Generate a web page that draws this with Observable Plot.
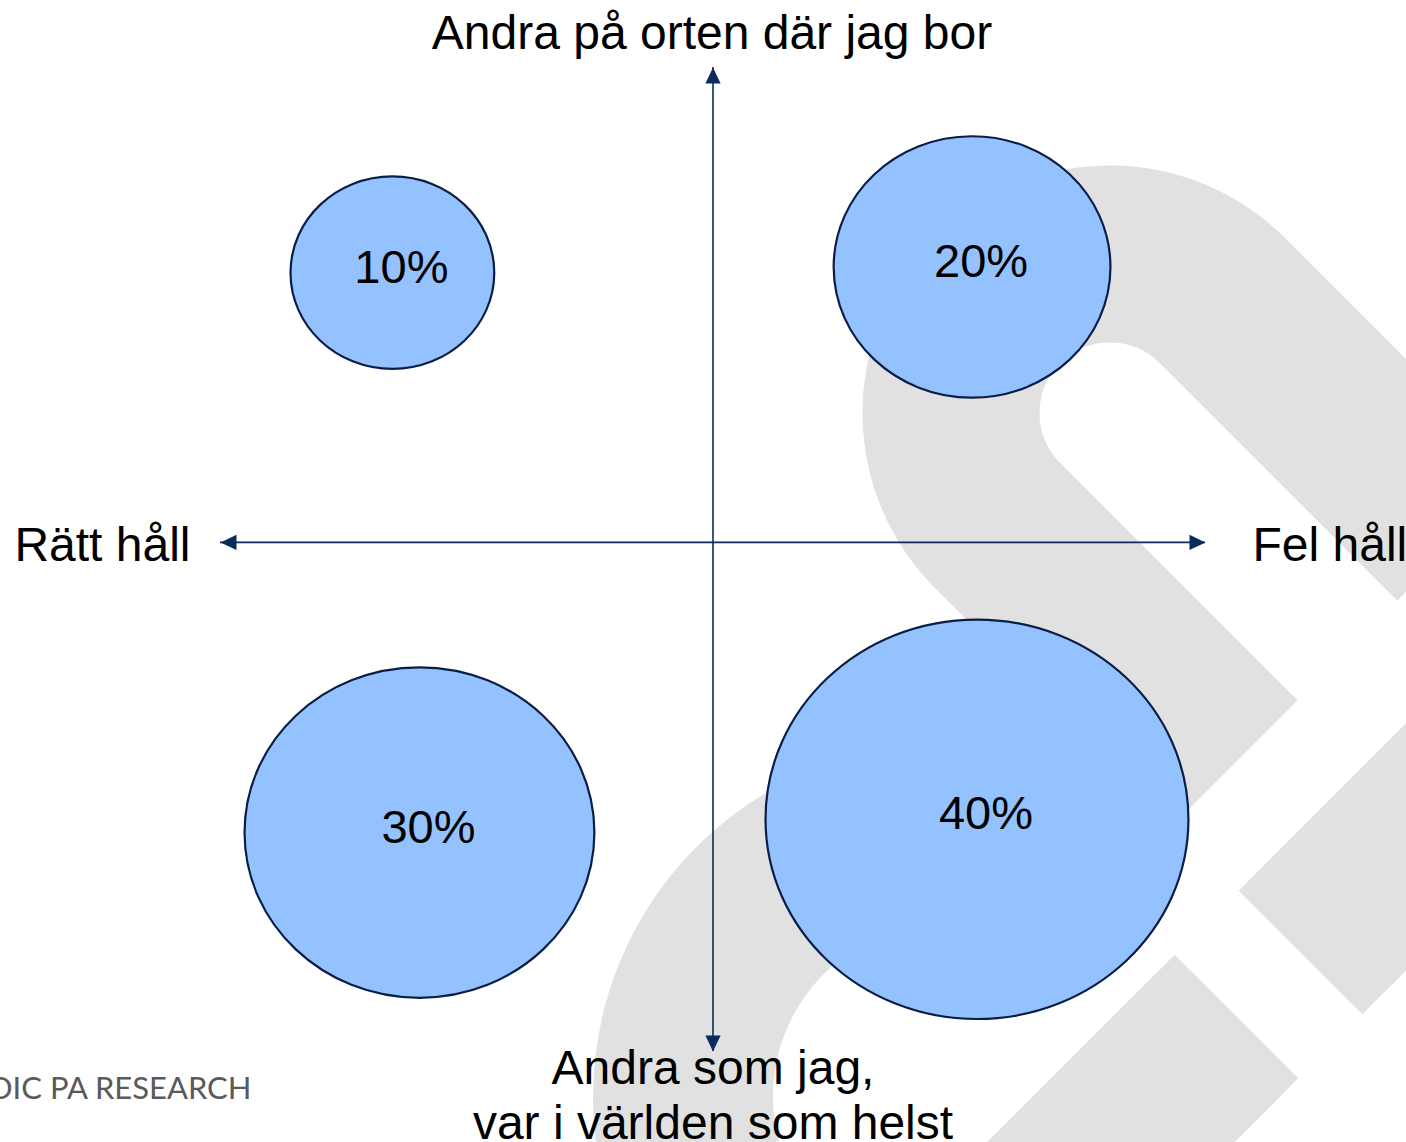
<!DOCTYPE html>
<html>
<head>
<meta charset="utf-8">
<script src="https://cdn.jsdelivr.net/npm/d3@7"></script>
<script src="https://cdn.jsdelivr.net/npm/@observablehq/plot@0.6"></script>
<style>
  html, body { margin: 0; padding: 0; background: #ffffff; overflow: hidden; }
  #chart svg { display: block; }
</style>
</head>
<body>
<div id="chart"></div>
<script>
// ---------- data ----------
const quadrants   = ["På orten, rätt håll", "På orten, fel håll", "Som jag, rätt håll", "Som jag, fel håll"];
const shares      = [10, 20, 30, 40];
const shareLabels = ["10%", "20%", "30%", "40%"];
// conceptual position: x  −1 = "Rätt håll" … +1 = "Fel håll"
//                      y  +1 = "Andra på orten" … −1 = "Andra som jag"
const posX = [-0.651, 0.526, -0.596, 0.536];
const posY = [0.568, 0.580, -0.611, -0.583];
const xExtent = [-1, 1];
const yExtent = [-1.072, 1];
const labelTop    = "Andra på orten där jag bor";
const labelBottom = "Andra som jag,\nvar i världen som helst";
const labelLeft   = "Rätt håll";
const labelRight  = "Fel håll";
const footer      = "NORDIC PA RESEARCH";

// ---------- derived tables ----------
const bubbles = shares.map((v, i) => ({quadrant: quadrants[i], share: v, label: shareLabels[i], x: posX[i], y: posY[i]}));
const heads = [
  {x: 0, y: yExtent[1], dir: 0},
  {x: xExtent[1], y: 0, dir: 90},
  {x: 0, y: yExtent[0], dir: 180},
  {x: xExtent[0], y: 0, dir: -90}
];

const NAVY = "#0b2b5c";
const FONT = "'Liberation Sans', Arial, Helvetica, sans-serif";

// ellipse-shaped symbol (slightly wider than tall), size driven by the r scale
const ASPECT = 1.029;
const ellipseSymbol = {
  draw(ctx, size) {
    const r = Math.sqrt(size / Math.PI);
    const a = r * ASPECT, b = r / ASPECT, k = 0.5522847498;
    ctx.moveTo(a, 0);
    ctx.bezierCurveTo(a, b * k, a * k, b, 0, b);
    ctx.bezierCurveTo(-a * k, b, -a, b * k, -a, 0);
    ctx.bezierCurveTo(-a, -b * k, -a * k, -b, 0, -b);
    ctx.bezierCurveTo(a * k, -b, a, -b * k, a, 0);
    ctx.closePath();
  }
};
// filled arrow head with its tip on the anchor point, pointing up
const headSymbol = {
  draw(ctx) {
    ctx.moveTo(0, 0);
    ctx.lineTo(-7.6, 16);
    ctx.lineTo(7.6, 16);
    ctx.closePath();
  }
};

const chart = Plot.plot({
  width: 1406,
  height: 1142,
  margin: 0,
  x: {domain: xExtent, range: [220, 1205], axis: null},
  y: {domain: yExtent, range: [1051, 67], axis: null},
  r: {type: "linear", domain: [0, 40], range: [63.5, 205.5]},
  style: {fontFamily: FONT, background: "transparent", overflow: "visible"},
  marks: [
    // axes
    Plot.ruleY([0], {x1: xExtent[0], x2: xExtent[1], stroke: NAVY, strokeWidth: 1.6}),
    Plot.ruleX([0], {y1: yExtent[0], y2: yExtent[1], stroke: NAVY, strokeWidth: 1.6}),
    Plot.dot(heads, {x: "x", y: "y", rotate: "dir", symbol: headSymbol, r: 5, fill: NAVY, stroke: "none"}),
    // bubbles
    Plot.dot(bubbles, {x: "x", y: "y", r: "share", symbol: ellipseSymbol, fill: "#94c2fe", stroke: "#0a1e45", strokeWidth: 2.2}),
    Plot.text(bubbles, {x: "x", y: "y", text: "label", dx: 9, dy: 10, lineAnchor: "bottom", fontSize: 47, fill: "#000"}),
    // axis labels
    Plot.text([labelTop], {x: 0, y: yExtent[1], text: d => d, dx: -1, dy: -19, lineAnchor: "bottom", textAnchor: "middle", fontSize: 48, fill: "#000"}),
    Plot.text([labelBottom], {x: 0, y: yExtent[0], text: d => d, dx: 0, dy: 87, lineAnchor: "bottom", textAnchor: "middle", lineHeight: 1.146, fontSize: 48, fill: "#000"}),
    Plot.text([labelLeft], {x: xExtent[0], y: 0, text: d => d, dx: -30, dy: 19, lineAnchor: "bottom", textAnchor: "end", fontSize: 48, fill: "#000"}),
    Plot.text([labelRight], {x: xExtent[1], y: 0, text: d => d, dx: 47, dy: 19, lineAnchor: "bottom", textAnchor: "start", fontSize: 48, fill: "#000"}),
    // footer brand
    Plot.text([footer], {frameAnchor: "bottom-left", text: d => d, dx: 251, dy: -44, lineAnchor: "bottom", textAnchor: "end", fontFamily: "Lato, 'Open Sans', sans-serif", fontSize: 31, fill: "#5a5a5a"})
  ]
});

// ---------- decorative watermark (slide background logo, not data) ----------
const NS = "http://www.w3.org/2000/svg";
const wm = document.createElementNS(NS, "g");
wm.setAttribute("fill", "none");
wm.setAttribute("stroke", "#e1e1e1");
wm.setAttribute("stroke-linecap", "butt");
[
  ["M1459.9,538.1 L1222.43,300.57 A159,159 0 0 0 997.57,525.43 L1235.07,762.93", 177],
  ["M718.4,1229 A264,264 0 0 1 947,833", 180],
  ["M1300.5,952.5 L1700,553", 175],
  ["M1236.5,1016.5 L800,1453", 175]
].forEach(([d, w]) => {
  const p = document.createElementNS(NS, "path");
  p.setAttribute("d", d);
  p.setAttribute("stroke-width", w);
  wm.appendChild(p);
});
const styleEl = chart.querySelector("style");
chart.insertBefore(wm, styleEl ? styleEl.nextSibling : chart.firstChild);

document.getElementById("chart").appendChild(chart);
</script>
</body>
</html>
